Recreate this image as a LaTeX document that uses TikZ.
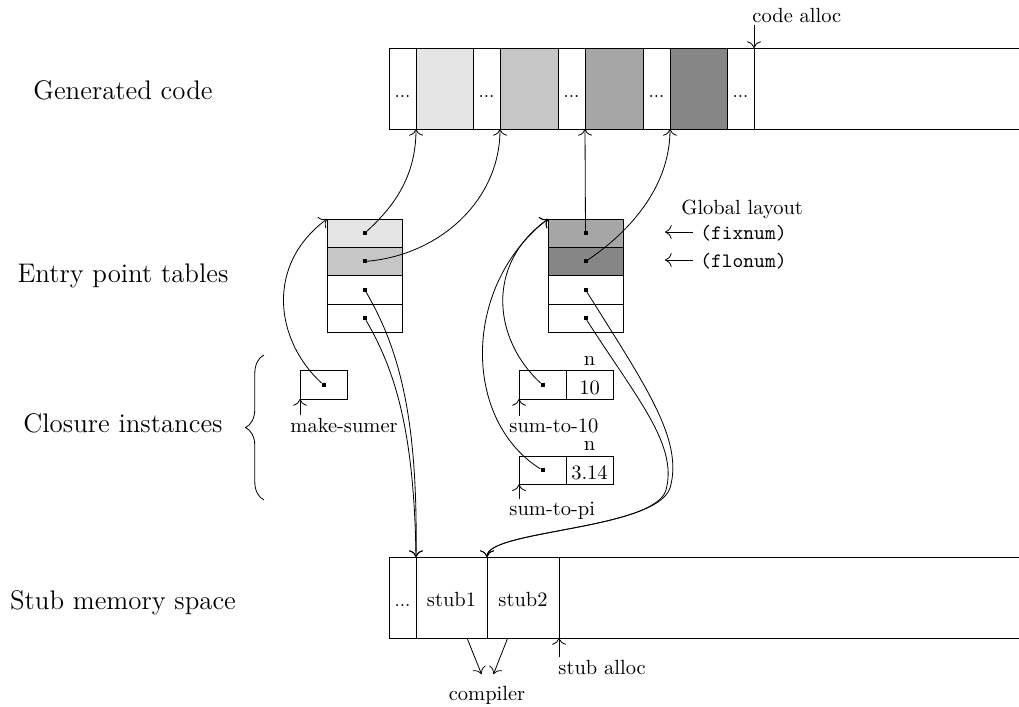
\documentclass[tikz,border=0pt]{standalone}
\usetikzlibrary{decorations.pathreplacing,arrows.meta}
\def\u{0.4878pt}
\begin{document}
\begin{tikzpicture}[x=\u, y=-\u, line width=0.4pt,
  cell/.style={draw, inner sep=0pt, outer sep=0pt, anchor=north west, text height=9pt, text depth=0pt},
  dotn/.style={fill=black, inner sep=0pt, outer sep=0pt, minimum size=4*\u},
  lbl/.style={font=\fontsize{13.1}{15}\selectfont, anchor=base},
  tag/.style={anchor=base west, inner sep=1pt},
  >={To[scale=1.3]}]
\useasboundingbox (0,0) rectangle (1019,706);

% Left labels
\node[lbl] (Lg) at (123,99.3) {Generated code};
\node[lbl] (Le) at (123,282.3) {Entry point tables};
\node[lbl] (Lc) at (123,432.3) {Closure instances};
\node[lbl] (Ls) at (123,609) {Stub memory space};

% Generated code
\node[cell, minimum width=27*\u, minimum height=81*\u] (c0) at (389,48) {\small ...};
\node[cell, fill=gray!20, minimum width=57*\u, minimum height=81*\u] (c1) at (416,48) {};
\node[cell, minimum width=27*\u, minimum height=81*\u] (c2) at (473,48) {\small ...};
\node[cell, fill=gray!45, minimum width=58*\u, minimum height=81*\u] (c3) at (500,48) {};
\node[cell, minimum width=27*\u, minimum height=81*\u] (c4) at (558,48) {\small ...};
\node[cell, fill=gray!70, minimum width=58*\u, minimum height=81*\u] (c5) at (585,48) {};
\node[cell, minimum width=27*\u, minimum height=81*\u] (c6) at (643,48) {\small ...};
\node[cell, fill=gray!95, minimum width=57*\u, minimum height=81*\u] (c7) at (670,48) {};
\node[cell, minimum width=27*\u, minimum height=81*\u] (c8) at (727,48) {\small ...};
\coordinate (cend1) at (1019,48);
\coordinate (cend2) at (1019,129);
\draw (c8.north east) -- (cend1);
\draw (c8.south east) -- (cend2);
\node[anchor=base west, inner sep=1pt] (calloc) at (750,22) {code alloc};
\draw[->] (c8.north east |- calloc.south) -- (c8.north east);

% Entry point tables
\node[cell, fill=gray!20, minimum width=75.5*\u, minimum height=28.3*\u] (l1) at (327,219) {};
\node[cell, fill=gray!45, minimum width=75.5*\u, minimum height=28.3*\u] (l2) at (327,247.3) {};
\node[cell, minimum width=75.5*\u, minimum height=28.3*\u] (l3) at (327,275.6) {};
\node[cell, minimum width=75.5*\u, minimum height=28.3*\u] (l4) at (327,304) {};
\node[cell, fill=gray!70, minimum width=75*\u, minimum height=28.3*\u] (r1) at (548,219) {};
\node[cell, fill=gray!95, minimum width=75*\u, minimum height=28.3*\u] (r2) at (548,247.3) {};
\node[cell, minimum width=75*\u, minimum height=28.3*\u] (r3) at (548,275.6) {};
\node[cell, minimum width=75*\u, minimum height=28.3*\u] (r4) at (548,304) {};
\node[dotn] (dl1) at (l1.center) {};
\node[dotn] (dl2) at (l2.center) {};
\node[dotn] (dl3) at (l3.center) {};
\node[dotn] (dl4) at (l4.center) {};
\node[dotn] (dr1) at (r1.center) {};
\node[dotn] (dr2) at (r2.center) {};
\node[dotn] (dr3) at (r3.center) {};
\node[dotn] (dr4) at (r4.center) {};

% Global layout
\node[anchor=base west, inner sep=0pt] (gl) at (681,214) {Global layout};
\node[anchor=west, inner sep=0pt] (fix) at (700,233) {\texttt{(fixnum)}};
\node[anchor=west, inner sep=0pt] (flo) at (700,261) {\texttt{(flonum)}};
\coordinate (fixa) at (693,232);
\coordinate (fixb) at (665,232);
\coordinate (floa) at (693,260);
\coordinate (flob) at (665,260);
\draw[->] (fixa) -- (fixb);
\draw[->] (floa) -- (flob);

% Closure instances
\draw[decorate, decoration={brace, amplitude=9pt}] (264,500) -- (264,355);
\node[cell, minimum width=47*\u, minimum height=28.3*\u] (ms) at (300,370.7) {};
\node[dotn] (dms) at (ms.center) {};
\node[tag] (msl) at (288,432) {make-sumer};
\draw[->] (ms.south west |- msl.north) -- (ms.south west);

\node[cell, minimum width=47*\u, minimum height=28.3*\u] (s10a) at (519,370.7) {};
\node[cell, minimum width=47*\u, minimum height=28.3*\u] (s10b) at (566,370.7) {10};
\node[dotn] (ds10) at (s10a.center) {};
\node[anchor=base, inner sep=0pt] (n1) at (589.5,365) {n};
\node[tag] (s10l) at (507,432) {sum-to-10};
\draw[->] (s10a.south west |- s10l.north) -- (s10a.south west);

\node[cell, minimum width=47*\u, minimum height=28.3*\u] (spa) at (519,456) {};
\node[cell, minimum width=47*\u, minimum height=28.3*\u] (spb) at (566,456) {3.14};
\node[dotn] (dspi) at (spa.center) {};
\node[anchor=base, inner sep=0pt] (n2) at (589.5,450) {n};
\node[tag] (spl) at (507,515) {sum-to-pi};
\draw[->] (spa.south west |- spl.north) -- (spa.south west);

% Stub memory space
\node[cell, minimum width=27*\u, minimum height=81*\u] (st0) at (389,557) {\small ...};
\node[cell, minimum width=71*\u, minimum height=81*\u] (st1) at (416,557) {stub1};
\node[cell, minimum width=72*\u, minimum height=81*\u] (st2) at (487,557) {stub2};
\coordinate (send1) at (1019,557);
\coordinate (send2) at (1019,638);
\draw (st2.north east) -- (send1);
\draw (st2.south east) -- (send2);
\node[tag] (salloc) at (556,674) {stub alloc};
\draw[->] (st2.south east |- salloc.north) -- (st2.south east);
\node[anchor=base, inner sep=5.5pt] (comp) at (487,700) {compiler};
\coordinate (cs1) at (467,638);
\coordinate (cs2) at (507.7,638);
\draw[->] (cs1) -- ([xshift=-5.5*\u]comp.north);
\draw[->] (cs2) -- ([xshift=6.5*\u]comp.north);

% Pointers to generated code
\draw[->] (dl1) .. controls (390,210) and (416,180) .. (c1.south west);
\draw[->] (dl2) .. controls (440,255) and (500,200) .. (c3.south west);
\draw[->] (dr1) -- (c5.south west);
\draw[->] (dr2) .. controls (625,235) and (670,190) .. (c7.south west);

% Closures to entry tables
\draw[->] (dms) .. controls (275,340) and (265,265) .. (l1.north west);
\draw[->] (ds10) .. controls (494,340) and (484,265) .. (r1.north west);
\draw[->] (dspi) .. controls (462,420) and (462,285) .. (r1.north west);

% Entry tables to stubs
\draw[->] (dl3) .. controls (400,350) and (418,420) .. (st1.north west);
\draw[->] (dl4) .. controls (395,370) and (414,430) .. (st1.north west);
\draw[->] (dr3) .. controls (645,385) and (684,440) .. (670,488) .. controls (656,530) and (487,530) .. (st2.north west);
\draw[->] (dr4) .. controls (638,400) and (678,445) .. (666,490) .. controls (654,530) and (487,530) .. (st2.north west);
\end{tikzpicture}
\end{document}
